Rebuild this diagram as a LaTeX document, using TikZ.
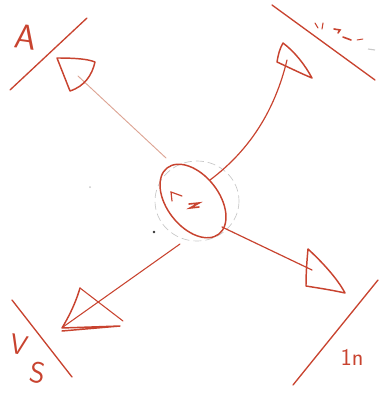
\documentclass[tikz,border=0pt]{standalone}
\usetikzlibrary{calc,shapes.geometric}
\definecolor{ink}{HTML}{C8432F}
\definecolor{pale}{HTML}{DDA595}
\definecolor{faint}{HTML}{C8C8C8}
\tikzset{
  wall/.style={draw=ink, line width=1pt, line cap=round},
  tri/.style={draw=ink, line width=1.1pt, line join=round, line cap=round},
  link/.style={draw=pale, line width=0.7pt, line cap=round},
  scrib/.style={draw=ink, line width=1.2pt, line cap=round},
  lbl/.style={text=ink, font=\sffamily, inner sep=0pt}
}
\begin{document}
\begin{tikzpicture}[x=0.75pt,y=-0.75pt]
\useasboundingbox (0,0) rectangle (383,393);
% faint dashed circle round centre
\draw[faint, line width=0.5pt, dash pattern=on 6pt off 3pt] (197,201) ellipse (42 and 40);
% central ellipse
\node[draw=ink, line width=1.1pt, ellipse, minimum width=63pt, minimum height=39pt, rotate=-52, inner sep=0pt] (c) at (193,201) {};
% scribble inside
\draw[scrib, line width=0.9pt] (172,201) -- (171,192) -- (182,196);
\draw[scrib] (189,204) -- (199,203) -- (190,208) -- (199,207);
% corner coordinates of triangles
\coordinate (tl) at (78,76);
\coordinate (tr) at (287,60);
\coordinate (bl) at (63,327);
\coordinate (br) at (312,270);
% connectors
\draw[link] (166,158) coordinate (c1) -- (tl);
\draw[ink, line width=0.9pt, line cap=round] (210,180) coordinate (c2) .. controls (250,150) and (275,110) .. (tr);
\draw[ink, line width=0.8pt, line cap=round] (180,244) coordinate (c3) -- (bl);
\draw[ink, line width=0.9pt, line cap=round] (222,227) coordinate (c4) -- (br);
% triangles
\draw[tri] (57,58) .. controls (75,58) and (88,59) .. (95,62) .. controls (92,75) and (85,86) .. (70,91) -- cycle;
\draw[tri] (283,43) .. controls (295,52) and (305,65) .. (312,78) .. controls (300,73) and (288,67) .. (277,62) .. controls (278,55) and (280,48) .. (283,43) -- cycle;
\draw[tri] (80,288) .. controls (75,305) and (68,318) .. (62,328) -- (120,326) -- (62,331);
\draw[tri, line width=0.8pt] (80,288) -- (123,321);
\draw[tri] (308,249) .. controls (322,262) and (337,278) .. (345,293) .. controls (332,290) and (318,288) .. (306,286) .. controls (306,272) and (307,260) .. (308,249) -- cycle;
% walls
\draw[wall] (10,90) -- (87,18);
\draw[wall] (272,5) -- (375,80);
\draw[wall] (12,300) -- (72,377);
\draw[wall] (378,280) -- (293,385);
% labels
\node[lbl, font=\sffamily\fontsize{26}{26}\selectfont, rotate=-8] (a) at (26,37) {A};
\node[lbl, font=\sffamily\fontsize{21}{21}\selectfont, rotate=-12] (v) at (19,345) {V};
\node[lbl, font=\sffamily\fontsize{22}{22}\selectfont, rotate=-10] (s) at (38,373) {S};
\node[lbl, font=\sffamily\fontsize{18}{18}\selectfont] (n) at (352,357) {1n};
% scribbles top right
\draw[scrib, line width=0.8pt] (315,23) -- (318,28);
\draw[scrib, line width=0.8pt] (323,23) -- (322,29);
\draw[scrib] (334,29) -- (340,30) -- (338,33);
\draw[scrib] (343,37) -- (351,40);
\draw[scrib, line width=0.7pt] (357,40) -- (363,39);
\draw[faint, line width=0.8pt] (368,49) -- (375,50);
% dots
\fill[black!80] (154,232) circle (1.3);
\fill[faint] (90,187) circle (1);
\end{tikzpicture}
\end{document}
